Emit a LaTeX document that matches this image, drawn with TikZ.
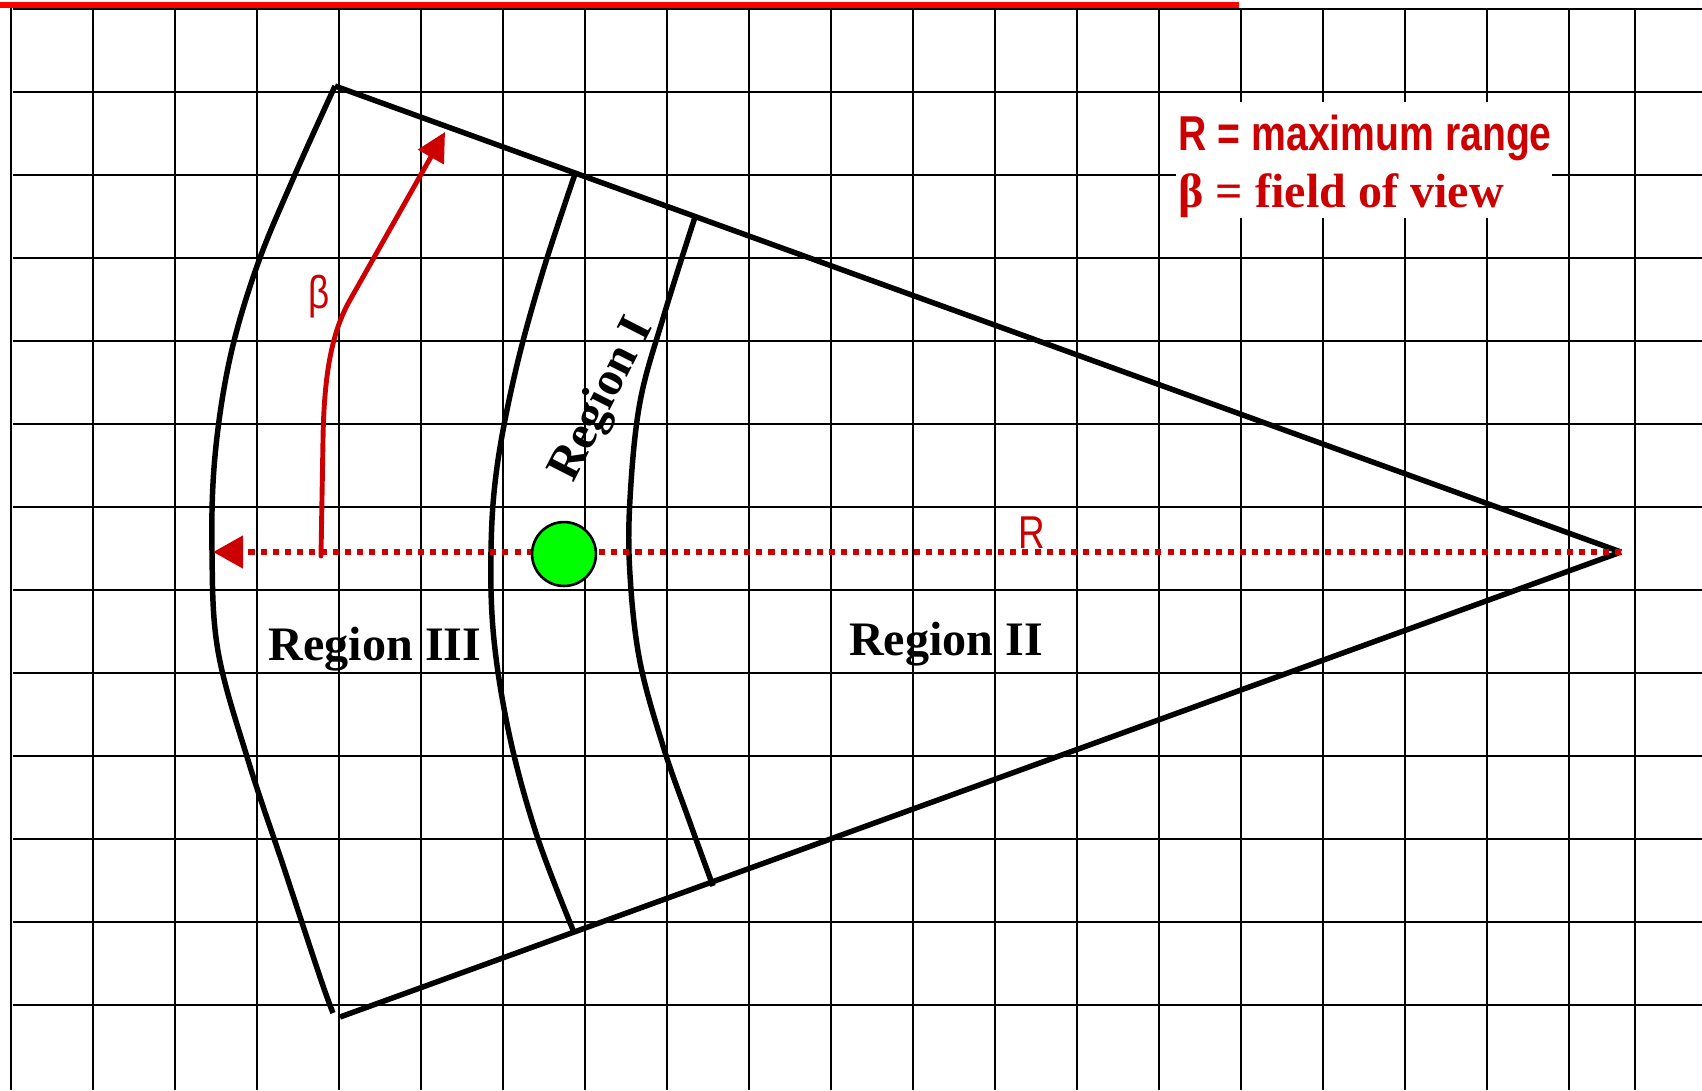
\documentclass[tikz,border=0pt]{standalone}
\usepackage{fontspec}
\setmainfont{Liberation Serif}
\newfontfamily\legendSans[FakeStretch=0.8]{Liberation Sans}
\usetikzlibrary{arrows.meta}

\begin{document}
\begin{tikzpicture}[x=0.0122cm, y=-0.0122cm,
    gridLine/.style={line width=0.65pt},
    coneLine/.style={line width=1.9pt},
    regionLabel/.style={font=\fontsize{16.7}{20}\selectfont\bfseries, inner sep=0pt}]
    \definecolor{topRed}{HTML}{FF0000}
    \definecolor{rangeRed}{HTML}{CC0000}
    \definecolor{targetGreen}{HTML}{00FF00}

    \useasboundingbox (0,0) rectangle (1702,1090);

    % grid
    \foreach \x in {11,93,...,1569}
        \draw[gridLine] (\x,8) -- (\x,1090);
    \draw[gridLine] (1635,8) -- (1635,1090);
    \foreach \y in {9,92,...,1005}
        \draw[gridLine] (13,\y) -- (1702,\y);

    \draw[topRed, line width=2.2pt] (0,5) -- (1239,5);

    % legend
    \fill[white] (1176,102) rectangle (1552,218);
    \node[anchor=base west, inner sep=0pt, text=rangeRed,
          font=\legendSans\fontsize{17}{20}\selectfont\bfseries] (rangeKey) at (1178,150) {R = maximum range};
    \node[anchor=base west, inner sep=0pt, text=rangeRed,
          font=\fontsize{16.7}{20}\selectfont\bfseries] (fovKey) at (1178,207) {β = field of view};

    % sensor cone
    \coordinate (apex) at (1621,552);
    \coordinate (farTop) at (335,86);
    \coordinate (farBot) at (340,1017);
    \draw[coneLine] (farTop) -- (apex);
    \draw[coneLine] (farBot) -- (apex);

    \draw[coneLine] plot[smooth, tension=0.6] coordinates {(farTop) (293,179) (257,266) (230,358)
        (215,456) (212,551) (218,651) (248,760) (284,868) (320,977) (333,1013)};
    \draw[coneLine] plot[smooth, tension=0.6] coordinates {(575,174) (543,271) (516,369) (497,467)
        (491,551) (494,640) (510,738) (537,836) (573,930)};
    \draw[coneLine] plot[smooth, tension=0.6] coordinates {(695,217) (664,315) (640,402) (630,499)
        (630,575) (640,662) (664,749) (689,820) (713,886)};

    % range and field of view
    \coordinate (rangeTip) at (213,552);
    \draw[rangeRed, line width=2.2pt, dash pattern=on 2.1pt off 2.1pt,
          -{Triangle[length=10.5pt, width=11pt]}] (apex) -- (rangeTip);
    \node[anchor=base, inner sep=0pt, text=rangeRed,
          font=\legendSans\fontsize{16}{19}\selectfont] (rangeLabel) at (1032,548) {R};

    \coordinate (betaStart) at (321,556);
    \coordinate (betaTip) at (445,132);
    \draw[rangeRed, line width=1.7pt, line cap=round, -{Triangle[length=10pt, width=10pt]}]
        (betaStart) -- (323,440) .. controls (324,370) and (333,330) .. (350,300) -- (betaTip);
    \node[inner sep=0pt, text=rangeRed,
          font=\legendSans\fontsize{16}{19}\selectfont] (betaLabel) at (319,297) {β};

    \node[circle, draw, line width=0.9pt, fill=targetGreen, minimum size=0.78cm, inner sep=0pt] (target) at (564,554) {};

    % regions
    \node[regionLabel, rotate=63] (regionOne) at (603,400) {Region I};
    \node[regionLabel, anchor=base] (regionTwo) at (946,655) {Region II};
    \node[regionLabel, anchor=base] (regionThree) at (375,660) {Region III};

\end{tikzpicture}
\end{document}
